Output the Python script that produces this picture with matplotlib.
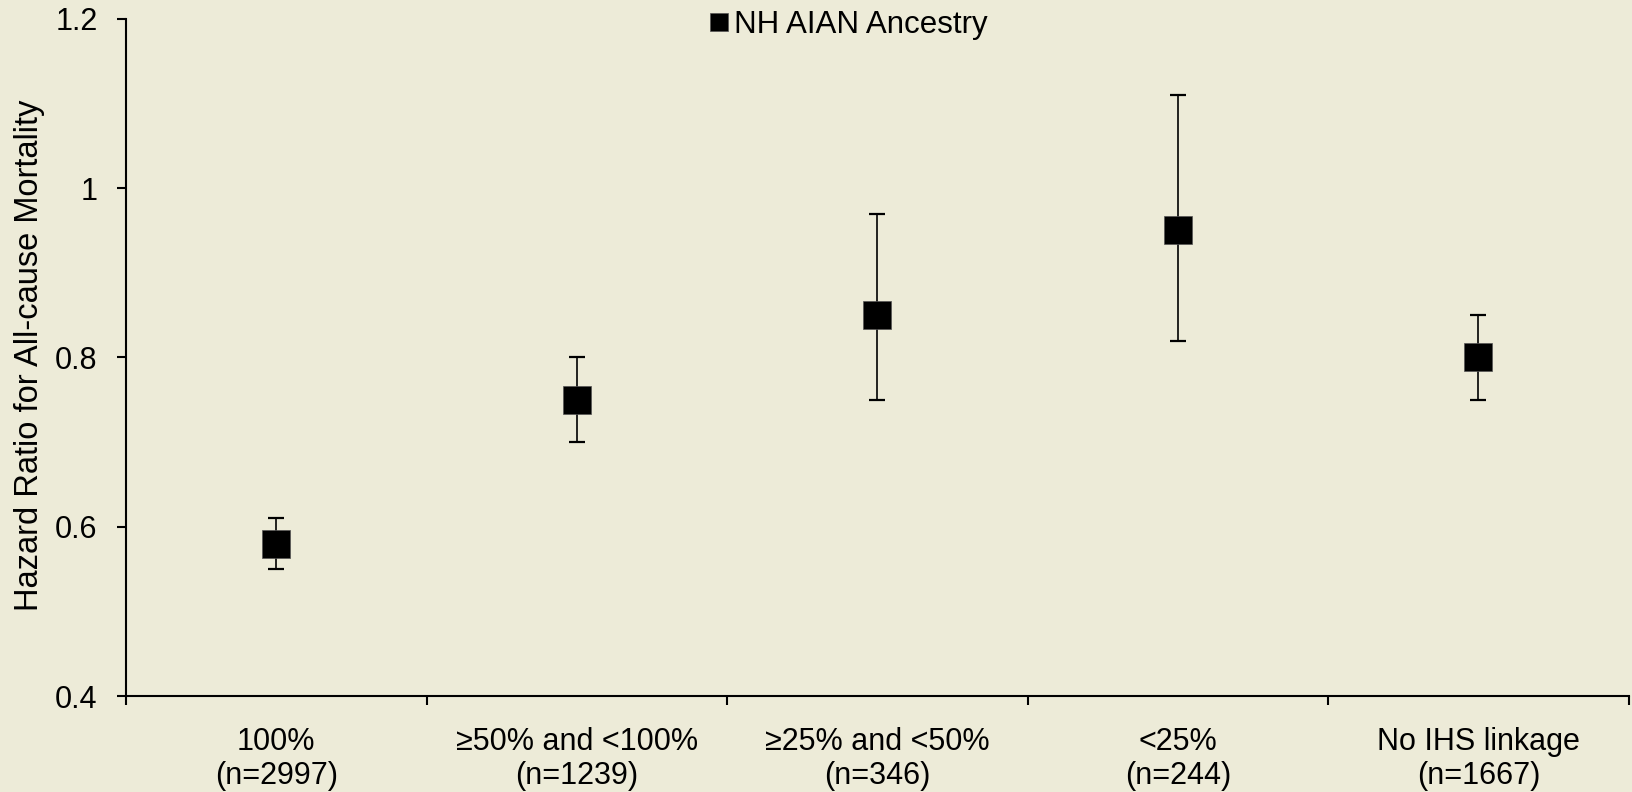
import numpy as np
import matplotlib.pyplot as plt

# data
categories = ['100%\n(n=2997)', '≥50% and <100%\n(n=1239)', '≥25% and <50%\n(n=346)',
              '<25%\n(n=244)', 'No IHS linkage\n(n=1667)']
hr = [0.58, 0.75, 0.85, 0.95, 0.80]
ci_low = [0.55, 0.70, 0.75, 0.82, 0.75]
ci_high = [0.61, 0.80, 0.97, 1.11, 0.85]

plt.rcParams['font.family'] = ['Liberation Sans', 'DejaVu Sans']

bg = '#EDEBD8'
fig = plt.figure(figsize=(16.32, 7.92), dpi=100, facecolor=bg)
ax = fig.add_axes([0.0772, 0.1212, 0.9208, 0.855], facecolor=bg)

x = np.arange(len(categories))
yerr = [np.array(hr) - np.array(ci_low), np.array(ci_high) - np.array(hr)]
ax.errorbar(x, hr, yerr=yerr, fmt='none', ecolor='black', elinewidth=1.2,
            capsize=5.8, capthick=1.6)
ax.plot(x, hr, 's', color='black', markersize=19.5, label='NH AIAN Ancestry',
        markeredgecolor='#555555', markeredgewidth=0.5, linestyle='none')

ax.set_xlim(-0.5, len(categories) - 0.5)
ax.set_ylim(0.4, 1.2)
ax.set_yticks([0.4, 0.6, 0.8, 1.0, 1.2])
ax.set_yticklabels(['0.4', '0.6', '0.8', '1', '1.2'])
ax.set_xticks(np.arange(-0.5, len(categories), 1.0))
ax.set_xticklabels([])
ax.set_xticks(x, minor=True)
ax.set_xticklabels(categories, minor=True)
ax.tick_params(axis='x', which='minor', length=0, pad=22, labelsize=22)
ax.tick_params(axis='x', which='major', length=6.5, width=1.5, direction='out')
ax.tick_params(axis='y', length=6.5, width=1.5, direction='out', pad=14, labelsize=22)

for s in ['top', 'right']:
    ax.spines[s].set_visible(False)
for s in ['left', 'bottom']:
    ax.spines[s].set_linewidth(1.5)

ax.set_ylabel('Hazard Ratio for All-cause Mortality', fontsize=23.5)
ax.yaxis.set_label_coords(-0.054, 0.503)

leg = ax.legend(loc='upper center', bbox_to_anchor=(0.481, 1.054), frameon=False,
                fontsize=22.5, handlelength=0.6, handletextpad=0.2, markerscale=0.7)

fig.savefig('out.png', dpi=100, facecolor=bg)
